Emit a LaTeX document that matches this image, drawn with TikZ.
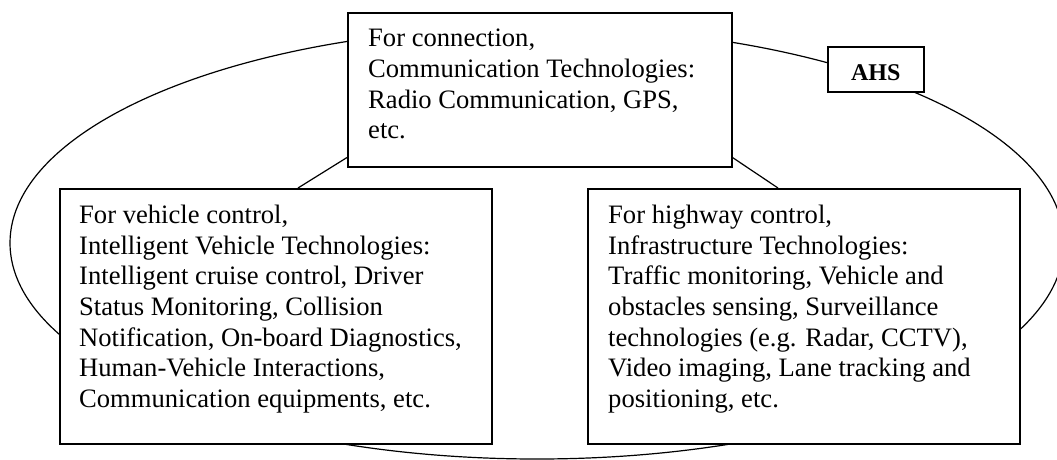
\documentclass[tikz,border=0pt]{standalone}
\usepackage{fontspec}
\setmainfont{Liberation Serif}
\usepackage{tikz}
\usetikzlibrary{positioning,calc,backgrounds}

\tikzset{
  techbox/.style={draw, line width=1.5pt, fill=white, rectangle, inner sep=0pt, anchor=north west},
  techtext/.style={anchor=north west, inner sep=0pt, align=left, font=\fontsize{26.6}{30.6}\selectfont},
}

\begin{document}
\begin{tikzpicture}[x=1pt,y=-1pt]
    \useasboundingbox (0,0) rectangle (1057,459);
    % boxes
    \node[techbox, minimum width=384pt, minimum height=154pt] (comm) at (347,12) {};
    \node[techbox, minimum width=432pt, minimum height=255pt] (veh) at (59,188) {};
    \node[techbox, minimum width=432pt, minimum height=255pt] (infra) at (587,188) {};
    \node[techbox, minimum width=96pt, minimum height=45pt] (ahs) at (827,46) {};
    \node[font=\fontsize{24}{28}\selectfont\bfseries, yshift=-3pt] (ahstext) at (ahs.center) {AHS};
    % texts
    \node[techtext] (commtext) at (368,29) {For connection,\\Communication Technologies:\\Radio Communication, GPS,\\etc.};
    \node[techtext] (vehtext) at (79,205) {For vehicle control,\\Intelligent Vehicle Technologies:\\Intelligent cruise control, Driver\\Status Monitoring, Collision\\Notification, On-board Diagnostics,\\Human-Vehicle Interactions,\\Communication equipments, etc.};
    \node[techtext] (infratext) at (608,205) {For highway control,\\Infrastructure Technologies:\\Traffic monitoring, Vehicle and\\obstacles sensing, Surveillance\\technologies (e.g. Radar, CCTV),\\Video imaging, Lane tracking and\\positioning, etc.};
    % links
    \draw[line width=1.2pt] ([yshift=10pt]comm.south west) -- ([xshift=239pt]veh.north west);
    \draw[line width=1.2pt] ([yshift=10pt]comm.south east) -- ([xshift=191pt]infra.north west);
    \begin{scope}[on background layer]
        \draw[line width=1.2pt] (537,243) ellipse [x radius=527pt, y radius=216pt];
    \end{scope}
\end{tikzpicture}
\end{document}
